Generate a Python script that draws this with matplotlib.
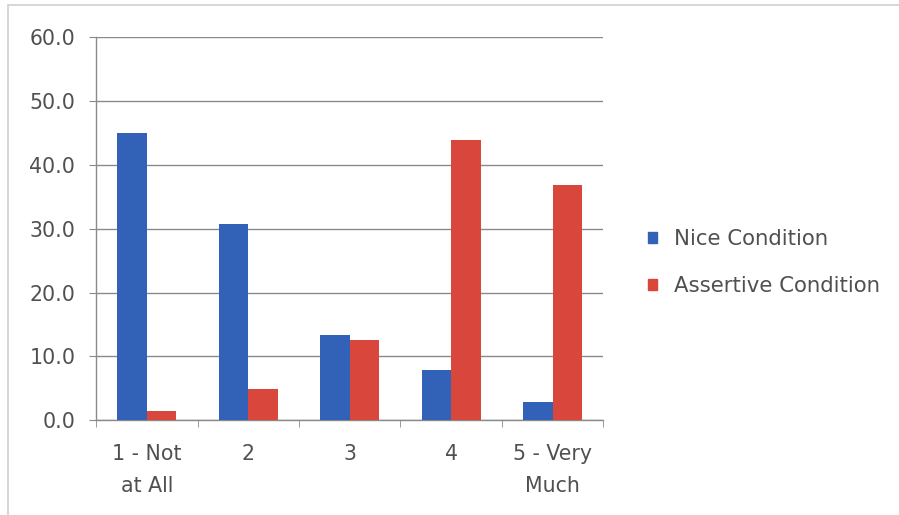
import matplotlib
matplotlib.use("Agg")
import matplotlib.pyplot as plt
import numpy as np
from matplotlib.patches import Rectangle, Patch

categories = ["1 - Not\nat All", "2", "3", "4", "5 - Very\nMuch"]
nice = [45.0, 30.8, 13.4, 7.8, 2.8]
assertive = [1.5, 4.9, 12.5, 43.9, 36.8]
series_names = ["Nice Condition", "Assertive Condition"]
y_ticks = [0, 10, 20, 30, 40, 50, 60]

blue = "#3262B8"
red = "#D8463C"
text_col = "#505050"
grid_col = "#8a8a8a"

plt.rcParams["font.family"] = ["DejaVu Sans"]

fig = plt.figure(figsize=(8.99, 5.15), dpi=100)
ax = fig.add_axes([0.107, 0.184, 0.564, 0.744])

x = np.arange(len(categories))
w = 0.29
ax.bar(x - w / 2, nice, width=w, color=blue, zorder=3)
ax.bar(x + w / 2, assertive, width=w, color=red, zorder=3)

ax.set_xlim(-0.5, len(categories) - 0.5)
ax.set_ylim(0, 60)
ax.set_yticks(y_ticks)
ax.set_yticklabels([f"{v:.1f}" for v in y_ticks])
ax.yaxis.grid(True, color=grid_col, linewidth=1.0, zorder=0)

ax.set_xticks(x)
ax.set_xticklabels(categories, linespacing=1.75)
ax.set_xticks(np.arange(len(categories) + 1) - 0.5, minor=True)
ax.tick_params(axis="x", which="major", length=0, pad=17, labelsize=14.8, labelcolor=text_col)
ax.tick_params(axis="x", which="minor", length=5, color=grid_col, direction="out")
ax.tick_params(axis="y", length=5, color=grid_col, pad=10, labelsize=14.8, labelcolor=text_col)

for side in ["top", "right"]:
    ax.spines[side].set_visible(False)
for side in ["left", "bottom"]:
    ax.spines[side].set_color(grid_col)
    ax.spines[side].set_linewidth(1.0)

handles = [Patch(color=blue), Patch(color=red)]
fig.legend(handles, series_names, loc="center left", bbox_to_anchor=(0.700, 0.490),
           frameon=False, fontsize=15.3, labelcolor=text_col, handlelength=0.42,
           handleheight=0.42, handletextpad=0.8, labelspacing=1.25)

# faint outer chart border
fig.add_artist(Rectangle((0.009, -0.02), 1.2, 1.01, transform=fig.transFigure,
                         fill=False, edgecolor="#cfcfcf", linewidth=1.2))

fig.savefig("out.png", dpi=100)
